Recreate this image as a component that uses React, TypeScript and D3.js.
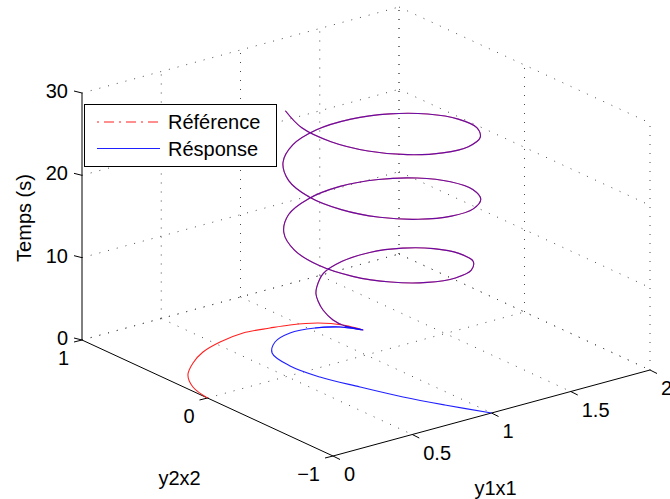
import * as d3 from "d3";

// axis ticks
const zTicks = [0, 10, 20, 30];
const y1Ticks = [0, 0.5, 1, 1.5, 2];
const y2Ticks = [-1, 0, 1];

// start of the reference (red) before it joins the spiral
const refT = [0, 0.15, 0.3, 0.45, 0.6, 0.8, 1.0, 1.25, 1.5, 1.9, 2.3];
const refY1 = [0, 0.026, 0.099, 0.212, 0.335, 0.475, 0.63, 0.762, 0.85, 0.95, 1.004];
const refY2 = [0, 0.149, 0.281, 0.383, 0.459, 0.5, 0.512, 0.464, 0.416, 0.319, 0.188];

// start of the response (blue)
const resT = [0, 0.15, 0.3, 0.45, 0.6, 0.8, 1.0, 1.25, 1.5, 1.9, 2.3];
const resY1 = [1, 0.873, 0.765, 0.669, 0.585, 0.547, 0.573, 0.662, 0.781, 0.895, 0.975];
const resY2 = [-1, -0.789, -0.592, -0.37, -0.157, 0.033, 0.209, 0.298, 0.329, 0.274, 0.175];

// spiral shared by both series (they overlap there)
const helixT = [
  2.8, 3.3, 3.9, 4.8, 5.6, 6.3, 7, 7.5, 8, 8.5, 9, 9.5, 10, 10.5, 11, 11.5, 12,
  12.5, 13, 13.5, 14, 14.5, 15, 15.5, 16, 16.5, 17, 17.5, 18, 18.5, 19, 19.5,
  20, 20.5, 21, 21.5, 22, 22.5, 23, 23.5, 24, 24.5, 25, 25.5, 26, 26.5, 27,
  27.5, 28, 28.5, 29, 29.5, 30,
];
const helixY1 = [
  1.005, 0.932, 0.894, 0.876, 0.877, 0.88, 0.892, 1.001, 1.144, 1.295, 1.426,
  1.511, 1.535, 1.489, 1.369, 1.204, 1.018, 0.841, 0.703, 0.627, 0.626, 0.7,
  0.838, 1.019, 1.214, 1.39, 1.521, 1.586, 1.573, 1.486, 1.338, 1.153, 0.959,
  0.787, 0.665, 0.611, 0.635, 0.732, 0.887, 1.076, 1.269, 1.434, 1.547, 1.59,
  1.555, 1.448, 1.287, 1.096, 0.905, 0.745, 0.642, 0.61, 0.656,
];
const helixY2 = [
  0.03, 0.082, 0.129, 0.186, 0.227, 0.247, 0.256, 0.341, 0.372, 0.343, 0.249,
  0.107, -0.064, -0.236, -0.373, -0.455, -0.465, -0.399, -0.269, -0.094, 0.098,
  0.276, 0.412, 0.481, 0.477, 0.395, 0.251, 0.067, -0.127, -0.301, -0.428,
  -0.487, -0.469, -0.377, -0.226, -0.039, 0.155, 0.323, 0.441, 0.49, 0.46,
  0.358, 0.2, 0.01, -0.182, -0.344, -0.453, -0.49, -0.45, -0.338, -0.173,
  0.019, 0.208,
];

const W = 670;
const H = 499;
const FONT = "'Liberation Sans', Arial, Helvetica, sans-serif";

// box corner (y1=0, y2=1, z=0) and the screen vectors of each full axis range
const origin = [82, 340];
const ex = [317, -86];
const ey = [251, 116];
const ez = [0, -247];

const sY1 = d3.scaleLinear().domain([0, 2]).range([0, 1]);
const sY2 = d3.scaleLinear().domain([1, -1]).range([0, 1]);
const sZ = d3.scaleLinear().domain([0, 30]).range([0, 1]);

function proj(y1: number, y2: number, z: number): [number, number] {
  const a = sY1(y1);
  const b = sY2(y2);
  const c = sZ(z);
  return [
    origin[0] + a * ex[0] + b * ey[0] + c * ez[0],
    origin[1] + a * ex[1] + b * ey[1] + c * ez[1],
  ];
}

const line = d3
  .line<[number, number]>()
  .x((d) => d[0])
  .y((d) => d[1])
  .curve(d3.curveCatmullRom.alpha(0.5));

const helixPts = helixT.map((tt, i) => proj(helixY1[i], helixY2[i], tt));

function startPts(t: number[], a: number[], b: number[]) {
  return t.map((tt, i) => proj(a[i], b[i], tt));
}

export default function App() {
  const [y1Min, y1Max] = sY1.domain();
  const y2Max = 1;
  const y2Min = -1;
  const [zMin, zMax] = sZ.domain();

  // grid segments: back wall y2=1, back wall y1=2, floor z=0
  const grid: [number, number][][] = [];
  y1Ticks.forEach((v) => {
    if (v > y1Min) grid.push([proj(v, y2Max, zMin), proj(v, y2Max, zMax)]);
    if (v > y1Min) grid.push([proj(v, y2Max, zMin), proj(v, y2Min, zMin)]);
  });
  y2Ticks.forEach((v) => {
    grid.push([proj(y1Max, v, zMin), proj(y1Max, v, zMax)]);
    if (v > y2Min) grid.push([proj(y1Min, v, zMin), proj(y1Max, v, zMin)]);
  });
  zTicks.forEach((v) => {
    grid.push([proj(y1Min, y2Max, v), proj(y1Max, y2Max, v)]);
    grid.push([proj(y1Max, y2Max, v), proj(y1Max, y2Min, v)]);
  });

  const zAxis = [proj(y1Min, y2Max, zMin), proj(y1Min, y2Max, zMax)];
  const y2Axis = [proj(y1Min, y2Max, zMin), proj(y1Min, y2Min, zMin)];
  const y1Axis = [proj(y1Min, y2Min, zMin), proj(y1Max, y2Min, zMin)];

  const refStart = startPts(refT, refY1, refY2);
  const resStart = startPts(resT, resY1, resY2);
  const refPath = line(refStart.concat(helixPts)) ?? "";
  const resStartPath = line(resStart.concat(helixPts.slice(0, 2))) ?? "";
  const resHelixPath = line(resStart.slice(-2).concat(helixPts)) ?? "";

  const zMid = proj(y1Min, y2Max, 15);
  const y2Mid = proj(y1Min, 0, zMin);
  const y1Mid = proj(1, y2Min, zMin);

  return (
    <svg
      width={W}
      height={H}
      viewBox={`0 0 ${W} ${H}`}
      style={{ position: "absolute", left: 0, top: 0, background: "#fff" }}
      fontFamily={FONT}
      fontSize={20}
    >
      <rect width={W} height={H} fill="#fff" />

      {/* dotted grid */}
      <g stroke="#000" strokeWidth={1} strokeDasharray="1 8" opacity={0.7}>
        {grid.map((s, i) => (
          <line key={i} x1={s[0][0]} y1={s[0][1]} x2={s[1][0]} y2={s[1][1]} />
        ))}
      </g>

      {/* axis lines */}
      <g stroke="#000" strokeWidth={1}>
        {[zAxis, y2Axis, y1Axis].map((s, i) => (
          <line key={i} x1={s[0][0]} y1={s[0][1]} x2={s[1][0]} y2={s[1][1]} />
        ))}
        {zTicks.map((v) => {
          const p = proj(y1Min, y2Max, v);
          return <line key={"zt" + v} x1={p[0]} y1={p[1]} x2={p[0] - 8} y2={p[1] - 2} />;
        })}
        {y2Ticks.map((v) => {
          const p = proj(y1Min, v, zMin);
          return <line key={"y2t" + v} x1={p[0]} y1={p[1]} x2={p[0] - 8} y2={p[1] + 2} />;
        })}
        {y1Ticks.map((v) => {
          const p = proj(v, y2Min, zMin);
          return <line key={"y1t" + v} x1={p[0]} y1={p[1]} x2={p[0] + 7} y2={p[1] + 3.5} />;
        })}
      </g>

      {/* tick labels */}
      <g fill="#000">
        {zTicks.map((v) => {
          const p = proj(y1Min, y2Max, v);
          return (
            <text key={"zl" + v} x={68} y={p[1] - 2} dy="0.35em" textAnchor="end">
              {v}
            </text>
          );
        })}
        {y2Ticks.map((v) => {
          const p = proj(y1Min, v, zMin);
          return (
            <text key={"y2l" + v} x={p[0] - 13} y={p[1] + 18} dy="0.35em" textAnchor="end">
              {v < 0 ? "\u2212" + Math.abs(v) : v}
            </text>
          );
        })}
        {y1Ticks.map((v) => {
          const p = proj(v, y2Min, zMin);
          return (
            <text key={"y1l" + v} x={p[0] + 11} y={p[1] + 18} dy="0.35em" textAnchor="start">
              {v}
            </text>
          );
        })}
      </g>

      {/* axis labels */}
      <text
        transform={`translate(${zMid[0] - 58},${zMid[1] + 1.5}) rotate(-90)`}
        textAnchor="middle"
        dy="0.35em"
      >
        Temps (s)
      </text>
      <text x={y2Mid[0] - 28} y={y2Mid[1] + 80} textAnchor="middle" dy="0.35em">
        y2x2
      </text>
      <text x={y1Mid[0] + 4} y={y1Mid[1] + 75} textAnchor="middle" dy="0.35em">
        y1x1
      </text>

      {/* series */}
      <path d={refPath} fill="none" stroke="#ff2020" strokeWidth={1.1} />
      <path d={resStartPath} fill="none" stroke="#2020ff" strokeWidth={1.1} />
      <path d={resHelixPath} fill="none" stroke="#0000ff" strokeWidth={1.1} strokeOpacity={0.6} />

      {/* legend */}
      <g>
        <rect x={84.5} y={104.5} width={192} height={62} fill="#fff" stroke="#000" strokeWidth={1} />
        <line x1={97} y1={122} x2={160} y2={122} stroke="#ff2020" strokeWidth={1.1} strokeDasharray="2 5 10 5" />
        <text x={168} y={122} dy="0.35em">
          Référence
        </text>
        <line x1={97} y1={148.5} x2={160} y2={148.5} stroke="#2020ff" strokeWidth={1.1} />
        <text x={168} y={148.5} dy="0.35em">
          Résponse
        </text>
      </g>
    </svg>
  );
}
